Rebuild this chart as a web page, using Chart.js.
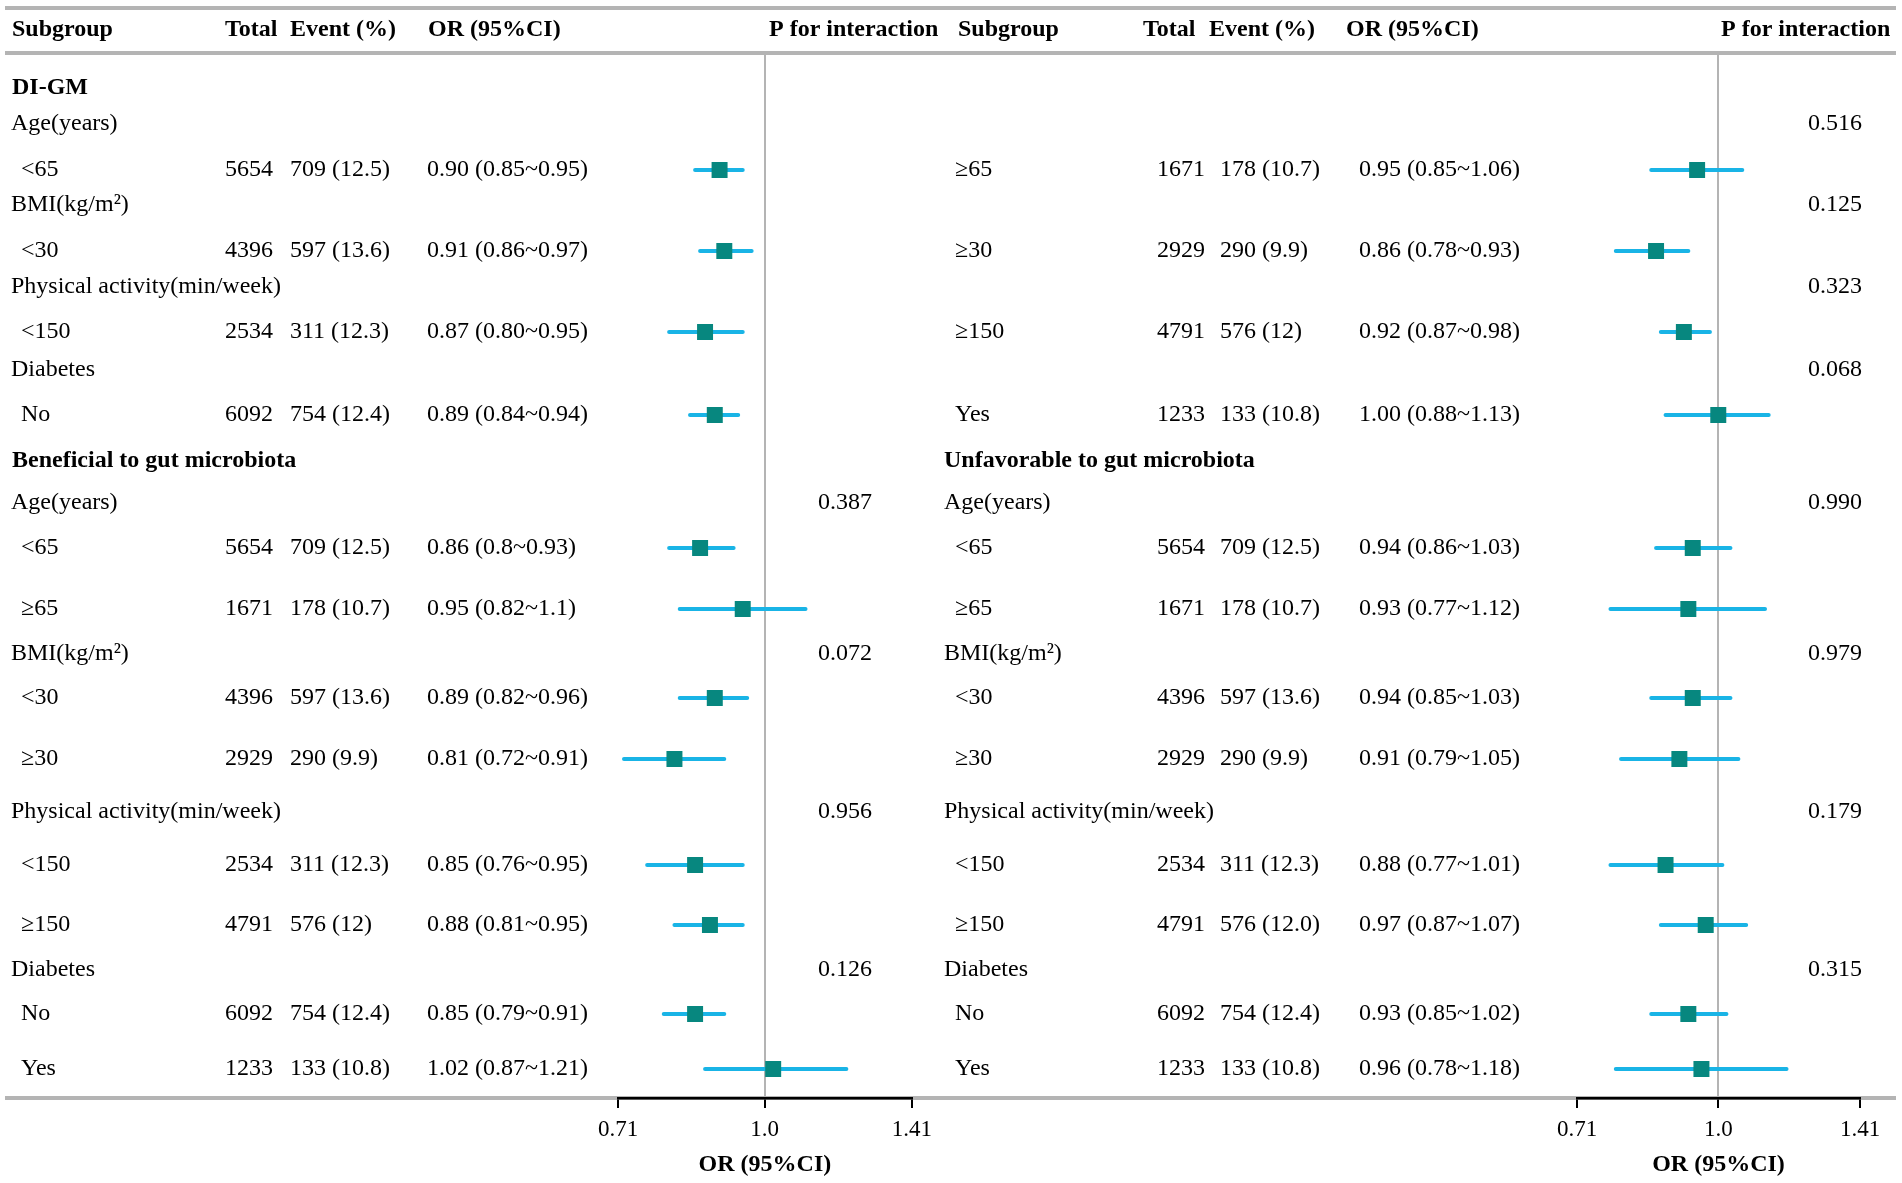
<!DOCTYPE html>
<html><head><meta charset="utf-8">
<script src="https://cdn.jsdelivr.net/npm/chart.js@4.4.1/dist/chart.umd.min.js"></script>
<style>
html,body{margin:0;padding:0;background:#fff;}
#wrap{position:relative;width:1902px;height:1183px;overflow:hidden;}
#cL{position:absolute;left:0;top:0;}
#cR{position:absolute;left:940px;top:0;}
</style></head><body>
<div id="wrap"><canvas id="cL" width="940" height="1183"></canvas><canvas id="cR" width="962" height="1183"></canvas></div>
<script>
// ================= DATA =================
const headers = ["Subgroup", "Total", "Event (%)", "OR (95%CI)", "P for interaction"];
const tickValues = [0.71, 1.0, 1.41];
const tickLabels = ["0.71", "1.0", "1.41"];
const axisTitle = "OR (95%CI)";

// row kinds: s = section title, v = variable, l = level, '' = empty
const leftKind = ["s","v","l","v","l","v","l","v","l","s","v","l","l","v","l","l","v","l","l","v","l","l"];
const leftSubgroup = ["DI-GM","Age(years)","<65","BMI(kg/m²)","<30","Physical activity(min/week)","<150","Diabetes","No",
  "Beneficial to gut microbiota","Age(years)","<65","≥65","BMI(kg/m²)","<30","≥30","Physical activity(min/week)","<150","≥150","Diabetes","No","Yes"];
const leftTotal = ["","","5654","","4396","","2534","","6092","","","5654","1671","","4396","2929","","2534","4791","","6092","1233"];
const leftEvent = ["","","709 (12.5)","","597 (13.6)","","311 (12.3)","","754 (12.4)","","","709 (12.5)","178 (10.7)","","597 (13.6)","290 (9.9)","","311 (12.3)","576 (12)","","754 (12.4)","133 (10.8)"];
const leftORText = ["","","0.90 (0.85~0.95)","","0.91 (0.86~0.97)","","0.87 (0.80~0.95)","","0.89 (0.84~0.94)","","","0.86 (0.8~0.93)","0.95 (0.82~1.1)","","0.89 (0.82~0.96)","0.81 (0.72~0.91)","","0.85 (0.76~0.95)","0.88 (0.81~0.95)","","0.85 (0.79~0.91)","1.02 (0.87~1.21)"];
const leftEst  = [null,null,0.90,null,0.91,null,0.87,null,0.89,null,null,0.86,0.95,null,0.89,0.81,null,0.85,0.88,null,0.85,1.02];
const leftLow  = [null,null,0.85,null,0.86,null,0.80,null,0.84,null,null,0.80,0.82,null,0.82,0.72,null,0.76,0.81,null,0.79,0.87];
const leftHigh = [null,null,0.95,null,0.97,null,0.95,null,0.94,null,null,0.93,1.10,null,0.96,0.91,null,0.95,0.95,null,0.91,1.21];
const leftP = ["","","","","","","","","","","0.387","","","0.072","","","0.956","","","0.126","",""];

const rightKind = ["","","l","","l","","l","","l","s","v","l","l","v","l","l","v","l","l","v","l","l"];
const rightSubgroup = ["","","≥65","","≥30","","≥150","","Yes",
  "Unfavorable to gut microbiota","Age(years)","<65","≥65","BMI(kg/m²)","<30","≥30","Physical activity(min/week)","<150","≥150","Diabetes","No","Yes"];
const rightTotal = ["","","1671","","2929","","4791","","1233","","","5654","1671","","4396","2929","","2534","4791","","6092","1233"];
const rightEvent = ["","","178 (10.7)","","290 (9.9)","","576 (12)","","133 (10.8)","","","709 (12.5)","178 (10.7)","","597 (13.6)","290 (9.9)","","311 (12.3)","576 (12.0)","","754 (12.4)","133 (10.8)"];
const rightORText = ["","","0.95 (0.85~1.06)","","0.86 (0.78~0.93)","","0.92 (0.87~0.98)","","1.00 (0.88~1.13)","","","0.94 (0.86~1.03)","0.93 (0.77~1.12)","","0.94 (0.85~1.03)","0.91 (0.79~1.05)","","0.88 (0.77~1.01)","0.97 (0.87~1.07)","","0.93 (0.85~1.02)","0.96 (0.78~1.18)"];
const rightEst  = [null,null,0.95,null,0.86,null,0.92,null,1.00,null,null,0.94,0.93,null,0.94,0.91,null,0.88,0.97,null,0.93,0.96];
const rightLow  = [null,null,0.85,null,0.78,null,0.87,null,0.88,null,null,0.86,0.77,null,0.85,0.79,null,0.77,0.87,null,0.85,0.78];
const rightHigh = [null,null,1.06,null,0.93,null,0.98,null,1.13,null,null,1.03,1.12,null,1.03,1.05,null,1.01,1.07,null,1.02,1.18];
const rightP = ["","0.516","","0.125","","0.323","","0.068","","","0.990","","","0.979","","","0.179","","","0.315","",""];

// ================= LAYOUT (not data) =================
const rowSpacing = [34,36,46,35,46,36,45,38,45,46,42,45,61,45,44,61,53,53,60,45,44,55]; // spacing between table rows
const bottomSpacing = 29;
const FONT = "'Liberation Serif','Times New Roman',serif";
const COL_CI = '#19b4e6';
const COL_SQ = '#07877f';
const COL_RULE = '#b4b4b4';

const rowSlot = [];
rowSpacing.reduce((acc, g) => { const v = acc + g; rowSlot.push(v); return v; }, 0);
const slotMax = rowSlot[rowSlot.length - 1] + bottomSpacing;

function makePanel(canvasId, cfg) {
  const ciData = [];
  const ptData = [];
  cfg.est.forEach((e, i) => {
    if (e === null) return;
    ciData.push({x: cfg.low[i], y: rowSlot[i]}, {x: cfg.high[i], y: rowSlot[i]}, {x: null, y: null});
    ptData.push({x: e, y: rowSlot[i]});
  });

  const tablePlugin = {
    id: 'table_' + canvasId,
    beforeDraw(chart) {
      const ctx = chart.ctx, W = chart.width;
      ctx.save();
      ctx.strokeStyle = COL_RULE;
      ctx.lineWidth = 4;
      [8, 53, chart.chartArea.bottom].forEach(y => {
        ctx.beginPath(); ctx.moveTo(cfg.ruleFrom, y); ctx.lineTo(W - cfg.ruleEndPad, y); ctx.stroke();
      });
      ctx.restore();
    },
    afterDatasetsDraw(chart) {
      const ctx = chart.ctx;
      const ys = chart.scales.y;
      ctx.save();
      ctx.fillStyle = '#000';
      ctx.textBaseline = 'middle';
      ctx.textAlign = 'left';
      ctx.font = 'bold 24px ' + FONT;
      headers.forEach((h, i) => ctx.fillText(h, cfg.hdrX[i], 30));
      cfg.sub.forEach((s, i) => {
        const y = ys.getPixelForValue(rowSlot[i]);
        const kind = cfg.kind[i];
        if (s) {
          if (kind === 's') { ctx.font = 'bold 24px ' + FONT; ctx.fillText(s, cfg.secX, y); }
          else if (kind === 'v') { ctx.font = '24px ' + FONT; ctx.fillText(s, cfg.varX, y); }
          else { ctx.font = '24px ' + FONT; ctx.fillText(s, cfg.lvlX, y); }
        }
        ctx.font = '24px ' + FONT;
        if (cfg.total[i]) ctx.fillText(cfg.total[i], cfg.totX, y);
        if (cfg.event[i]) ctx.fillText(cfg.event[i], cfg.evtX, y);
        if (cfg.orText[i]) ctx.fillText(cfg.orText[i], cfg.orX, y);
        if (cfg.p[i]) ctx.fillText(cfg.p[i], cfg.pX, y);
      });
      ctx.restore();
    }
  };

  return new Chart(document.getElementById(canvasId), {
    type: 'scatter',
    data: {
      datasets: [
        { type: 'line', data: ciData, borderColor: COL_CI, borderWidth: 4, pointRadius: 0, spanGaps: false, order: 2, borderCapStyle: 'round' },
        { type: 'scatter', data: ptData, pointStyle: 'rect', pointRadius: 11.3, backgroundColor: COL_SQ, borderWidth: 0, order: 1 }
      ]
    },
    options: {
      responsive: false,
      animation: false,
      layout: { padding: { left: cfg.padL, right: cfg.padR, top: 54, bottom: 0 } },
      plugins: { legend: { display: false }, tooltip: { enabled: false } },
      scales: {
        x: {
          type: 'logarithmic', min: tickValues[0], max: tickValues[tickValues.length - 1],
          afterBuildTicks: s => { s.ticks = tickValues.map(v => ({ value: v })); },
          afterFit: s => { s.height = 85; },
          ticks: { callback: (v, i) => tickLabels[i], font: { family: FONT, size: 23 }, color: '#000', padding: 8, maxRotation: 0, autoSkip: false },
          grid: { color: c => (c.tick && c.tick.value === 1) ? COL_RULE : 'rgba(0,0,0,0)', lineWidth: 2, drawTicks: true, tickLength: 10, tickColor: '#000', tickWidth: 2 },
          border: { display: true, color: '#000', width: 2.5 },
          title: { display: true, text: axisTitle, font: { family: FONT, size: 24, weight: 'bold' }, color: '#000', padding: { top: 0, bottom: 4 } }
        },
        y: { type: 'linear', reverse: true, min: 0, max: slotMax, display: false }
      }
    },
    plugins: [tablePlugin]
  });
}

makePanel('cL', {
  kind: leftKind, sub: leftSubgroup, total: leftTotal, event: leftEvent, orText: leftORText, p: leftP,
  est: leftEst, low: leftLow, high: leftHigh,
  hdrX: [12, 225, 290, 428, 769], secX: 12, varX: 11, lvlX: 21, totX: 225, evtX: 290, orX: 427, pX: 818,
  padL: 618, padR: 26, ruleFrom: 5, ruleEndPad: 0
});
makePanel('cR', {
  kind: rightKind, sub: rightSubgroup, total: rightTotal, event: rightEvent, orText: rightORText, p: rightP,
  est: rightEst, low: rightLow, high: rightHigh,
  hdrX: [18, 203, 269, 406, 781], secX: 4, varX: 4, lvlX: 15, totX: 217, evtX: 280, orX: 419, pX: 868,
  padL: 637, padR: 42, ruleFrom: 0, ruleEndPad: 6
});
</script>
</body></html>
